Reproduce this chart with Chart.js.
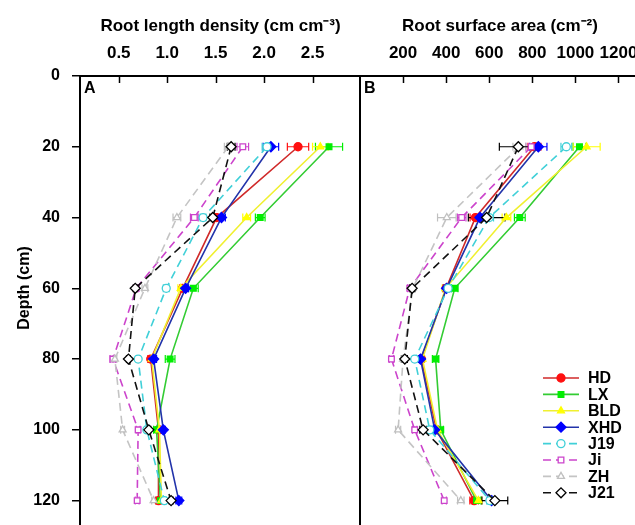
<!DOCTYPE html>
<html>
<head>
<meta charset="utf-8">
<script src="https://cdn.jsdelivr.net/npm/chart.js@4.4.0/dist/chart.umd.min.js"></script>
<style>
  html, body { margin: 0; padding: 0; background: #fff; overflow: hidden; }
  #wrap { position: relative; width: 635px; height: 525px; overflow: hidden; }
  #chartA { position: absolute; left: 0; top: 0; }
  #chartB { position: absolute; left: 358px; top: 0; }
</style>
</head>
<body>
<div id="wrap">
  <canvas id="chartA" width="361" height="536"></canvas>
  <canvas id="chartB" width="282" height="536"></canvas>
</div>
<script>
// depths and series
const depths = [20, 40, 60, 80, 100, 120];
const names = ['HD', 'LX', 'BLD', 'XHD', 'J19', 'Ji', 'ZH', 'J21'];
const depthTicks = [0, 20, 40, 60, 80, 100, 120];
const rldTicks = [0.5, 1.0, 1.5, 2.0, 2.5];
const rsaTicks = [200, 400, 600, 800, 1000, 1200];

// root length density (cm cm-3)
const rldHD  = [2.35, 1.51, 1.16, 0.83, 0.91, 0.91];
const rldLX  = [2.67, 1.96, 1.27, 1.03, 0.89, 0.93];
const rldBLD = [2.58, 1.82, 1.14, 0.84, 0.92, 0.94];
const rldXHD = [2.07, 1.56, 1.19, 0.86, 0.96, 1.12];
const rldJ19 = [2.03, 1.37, 0.99, 0.70, 0.79, 0.97];
const rldJi  = [1.78, 1.28, 0.68, 0.44, 0.70, 0.69];
const rldZH  = [1.63, 1.10, 0.77, 0.46, 0.54, 0.86];
const rldJ21 = [1.66, 1.47, 0.67, 0.60, 0.81, 1.04];

const rldErrHD  = [0.11, 0.04, 0.03, 0.03, 0.02, 0.03];
const rldErrLX  = [0.14, 0.05, 0.05, 0.05, 0.03, 0.03];
const rldErrBLD = [0.08, 0.04, 0.03, 0.03, 0.02, 0.02];
const rldErrXHD = [0.08, 0.04, 0.03, 0.03, 0.02, 0.03];
const rldErrJ19 = [0.05, 0.03, 0.03, 0.02, 0.02, 0.02];
const rldErrJi  = [0.06, 0.04, 0.02, 0.03, 0.02, 0.02];
const rldErrZH  = [0.04, 0.04, 0.03, 0.02, 0.02, 0.02];
const rldErrJ21 = [0.04, 0.03, 0.02, 0.02, 0.02, 0.02];

// root surface area (cm-2)
const rsaHD  = [810, 536, 400, 285, 355, 530];
const rsaLX  = [1019, 742, 440, 351, 375, 541];
const rsaBLD = [1052, 680, 397, 290, 360, 550];
const rsaXHD = [828, 557, 402, 281, 347, 611];
const rsaJ19 = [958, 600, 409, 254, 324, 603];
const rsaJi  = [795, 472, 231, 146, 254, 391];
const rsaZH  = [740, 403, 245, 200, 177, 468];
const rsaJ21 = [735, 588, 242, 208, 293, 626];

const rsaErrHD  = [30, 25, 15, 10, 10, 20];
const rsaErrLX  = [30, 25, 15, 15, 12, 20];
const rsaErrBLD = [63, 20, 15, 10, 10, 15];
const rsaErrXHD = [40, 20, 15, 10, 10, 15];
const rsaErrJ19 = [25, 20, 15, 10, 10, 15];
const rsaErrJi  = [25, 20, 10, 10, 10, 10];
const rsaErrZH  = [30, 43, 12, 10, 12, 15];
const rsaErrJ21 = [88, 85, 12, 12, 15, 60];

const lineColors = ['#d02a2a', '#33cc33', '#f0f030', '#2233aa', '#40d0d8', '#cc44cc', '#c4c4c4', '#111111'];
const markColors = ['#ff1010', '#00ee00', '#ffff00', '#0000ff', '#40d0d8', '#cc44cc', '#c0c0c0', '#000000'];
const shapes = ['circle', 'rect', 'triangle', 'rectRot', 'circle', 'rect', 'triangle', 'rectRot'];
const solid = [true, true, true, true, false, false, false, false];

const FONT = 'Liberation Sans, Arial, sans-serif';
Chart.defaults.font.family = FONT;
Chart.defaults.color = '#000';

function makeSets(values, errors) {
    return names.map((n, i) => ({
        label: n,
        data: depths.map((d, k) => ({x: values[i][k], y: d})),
        err: errors[i],
        order: names.length - i,
        borderColor: lineColors[i],
        borderWidth: 1.6,
        borderDash: solid[i] ? [] : [8, 5],
        pointStyle: shapes[i],
        pointRadius: shapes[i] == 'rectRot' ? 5 : 4,
        pointBorderWidth: 1.3,
        pointBackgroundColor: solid[i] ? markColors[i] : '#ffffff',
        pointBorderColor: markColors[i],
        tension: 0,
        fill: false
    }));
}

// no extra room for overhanging labels, the plot box is fixed
function noPad(s) {
    s.paddingTop = 0; s.paddingBottom = 0; s.paddingLeft = 0; s.paddingRight = 0;
}

// horizontal error bars, behind the markers
const errorBars = {
    id: 'errorBars',
    beforeDatasetsDraw(chart) {
        const ctx = chart.ctx, xs = chart.scales.x, ys = chart.scales.y, a = chart.chartArea;
        ctx.save();
        ctx.beginPath();
        ctx.rect(a.left, a.top, a.right - a.left, a.bottom - a.top);
        ctx.clip();
        chart.data.datasets.forEach(ds => {
            ctx.strokeStyle = ds.pointBorderColor;
            ctx.lineWidth = 1.2;
            ds.data.forEach((p, k) => {
                const e = ds.err[k];
                const x1 = xs.getPixelForValue(p.x - e);
                const x2 = xs.getPixelForValue(p.x + e);
                const y = ys.getPixelForValue(p.y);
                ctx.beginPath();
                ctx.moveTo(x1, y); ctx.lineTo(x2, y);
                ctx.moveTo(x1, y - 4); ctx.lineTo(x1, y + 4);
                ctx.moveTo(x2, y - 4); ctx.lineTo(x2, y + 4);
                ctx.stroke();
            });
        });
        ctx.restore();
    }
};

// tick marks pointing into the plot from the top axis, plus panel letter
const panelDecor = {
    id: 'panelDecor',
    afterDraw(chart, args, opts) {
        const ctx = chart.ctx, xs = chart.scales.x, a = chart.chartArea;
        ctx.save();
        ctx.strokeStyle = '#000';
        ctx.lineWidth = 1.5;
        xs.ticks.forEach(t => {
            const px = Math.round(xs.getPixelForValue(t.value)) + 0.5;
            ctx.beginPath();
            ctx.moveTo(px, a.top);
            ctx.lineTo(px, a.top + 7);
            ctx.stroke();
        });
        ctx.fillStyle = '#000';
        ctx.font = 'bold 16px ' + FONT;
        ctx.textBaseline = 'top';
        ctx.textAlign = 'left';
        ctx.fillText(opts.tag, a.left + 4, a.top + 5);
        if (opts.yTitle) {
            ctx.translate(25, 288);
            ctx.rotate(-Math.PI / 2);
            ctx.textAlign = 'center';
            ctx.textBaseline = 'middle';
            ctx.fillText(opts.yTitle, 0, 0);
        }
        ctx.restore();
    }
};

// legend with line and marker samples, inside panel B
const lineLegend = {
    id: 'lineLegend',
    afterDraw(chart) {
        const ctx = chart.ctx;
        ctx.save();
        chart.data.datasets.forEach((ds, i) => {
            const y = 378 + i * 16.4;
            ctx.strokeStyle = ds.borderColor;
            ctx.lineWidth = 1.6;
            ctx.setLineDash(ds.borderDash);
            ctx.beginPath();
            ctx.moveTo(185, y); ctx.lineTo(221, y);
            ctx.stroke();
            ctx.setLineDash([]);
            ctx.fillStyle = ds.pointBackgroundColor;
            ctx.strokeStyle = ds.pointBorderColor;
            ctx.lineWidth = 1.3;
            Chart.helpers.drawPoint(ctx, {pointStyle: ds.pointStyle, rotation: 0, radius: ds.pointRadius, borderWidth: 1.3}, 203, y);
            ctx.fillStyle = '#000';
            ctx.font = 'bold 16px ' + FONT;
            ctx.textBaseline = 'middle';
            ctx.textAlign = 'left';
            ctx.fillText(ds.label, 230, y + 1);
        });
        ctx.restore();
    }
};

function xAxis(min, max, tickList, title, fmt) {
    return {
        type: 'linear', position: 'top', min: min, max: max,
        afterBuildTicks: s => { s.ticks = tickList.map(v => ({value: v})); },
        afterFit: s => { s.height = 76; noPad(s); },
        ticks: {color: '#000', padding: 4, maxRotation: 0, font: {size: 17, weight: 'bold'}, callback: fmt},
        grid: {display: false},
        border: {display: true, color: '#000', width: 2},
        title: {display: true, text: title, color: '#000', font: {size: 17, weight: 'bold'}, padding: {top: 16, bottom: 0}}
    };
}

const chartA = new Chart(document.getElementById('chartA'), {
    type: 'line',
    data: {datasets: makeSets(
        [rldHD, rldLX, rldBLD, rldXHD, rldJ19, rldJi, rldZH, rldJ21],
        [rldErrHD, rldErrLX, rldErrBLD, rldErrXHD, rldErrJ19, rldErrJi, rldErrZH, rldErrJ21])},
    options: {
        responsive: false,
        animation: false,
        layout: {padding: 0, autoPadding: false},
        plugins: {legend: {display: false}, tooltip: {enabled: false},
                  panelDecor: {tag: 'A', yTitle: 'Depth (cm)'}},
        scales: {
            x: xAxis(0.1, 3.0, rldTicks, 'Root length density (cm cm\u207B\u00B3)', v => v.toFixed(1)),
            y: {
                type: 'linear', reverse: true, min: 0, max: 130,
                afterBuildTicks: s => { s.ticks = depthTicks.map(v => ({value: v})); },
                afterFit: s => { s.width = 80; noPad(s); },
                ticks: {color: '#000', padding: 12, font: {size: 16, weight: 'bold'}},
                grid: {display: true, drawOnChartArea: false, drawTicks: true, tickLength: 8, color: '#000', lineWidth: 1.5},
                border: {display: true, color: '#000', width: 2}
            }
        }
    },
    plugins: [errorBars, panelDecor]
});

const chartB = new Chart(document.getElementById('chartB'), {
    type: 'line',
    data: {datasets: makeSets(
        [rsaHD, rsaLX, rsaBLD, rsaXHD, rsaJ19, rsaJi, rsaZH, rsaJ21],
        [rsaErrHD, rsaErrLX, rsaErrBLD, rsaErrXHD, rsaErrJ19, rsaErrJi, rsaErrZH, rsaErrJ21])},
    options: {
        responsive: false,
        animation: false,
        layout: {padding: 0, autoPadding: false},
        plugins: {legend: {display: false}, tooltip: {enabled: false},
                  panelDecor: {tag: 'B'}},
        scales: {
            x: xAxis(0, 1300, rsaTicks, 'Root surface area (cm\u207B\u00B2)', v => String(v)),
            y: {
                type: 'linear', reverse: true, min: 0, max: 130,
                afterFit: s => { s.width = 2; noPad(s); },
                ticks: {display: false},
                grid: {display: false},
                border: {display: true, color: '#000', width: 2}
            }
        }
    },
    plugins: [errorBars, panelDecor, lineLegend]
});
</script>
</body>
</html>
